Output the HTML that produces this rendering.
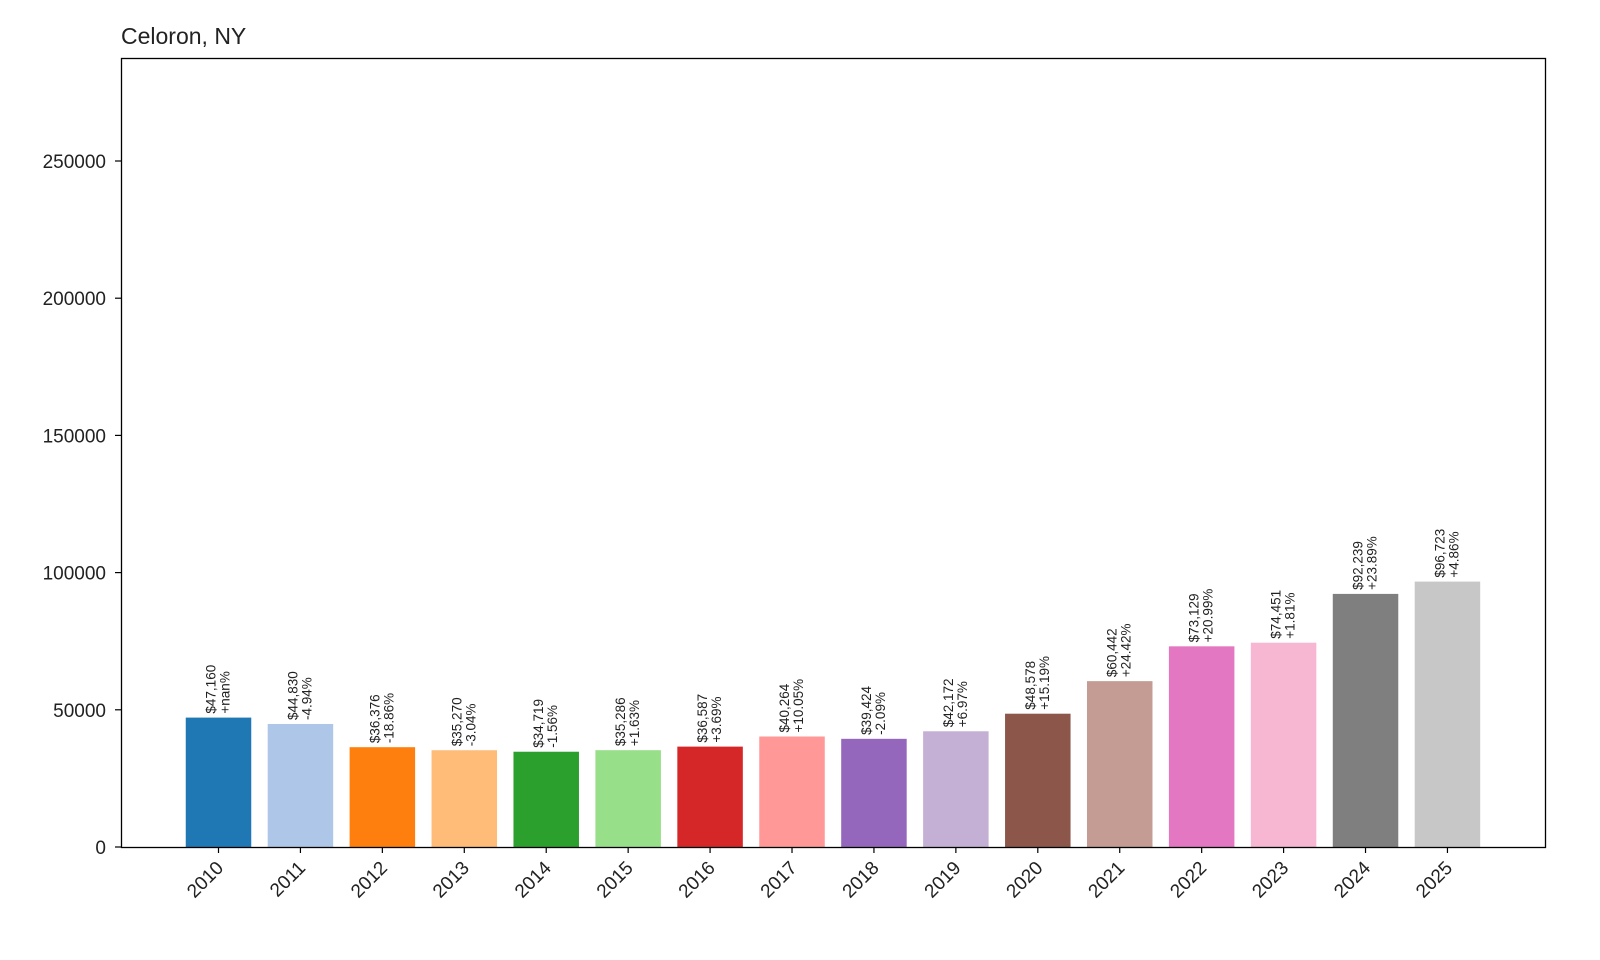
<!DOCTYPE html>
<html><head><meta charset="utf-8"><style>
body{margin:0;background:#fff;}
svg{display:block;font-family:"Liberation Sans","DejaVu Sans",sans-serif;}
</style></head><body>
<svg id="chart" width="1600" height="960" viewBox="0 0 1600 960" xmlns="http://www.w3.org/2000/svg">
<rect width="1600" height="960" fill="#fff"/>
<text x="121" y="44" font-size="23" fill="#222">Celoron, NY</text>
<g id="bars"></g>
<g id="yticks"></g>
<g id="xticks"></g>
<rect x="121.5" y="58.5" width="1424" height="789" fill="none" stroke="#000" stroke-width="1.3"/>
</svg>
<script>
const years = ["2010","2011","2012","2013","2014","2015","2016","2017","2018","2019","2020","2021","2022","2023","2024","2025"];
const values = [47160,44830,36376,35270,34719,35286,36587,40264,39424,42172,48578,60442,73129,74451,92239,96723];
const valueLabels = ["$47,160","$44,830","$36,376","$35,270","$34,719","$35,286","$36,587","$40,264","$39,424","$42,172","$48,578","$60,442","$73,129","$74,451","$92,239","$96,723"];
const pctLabels = ["+nan%","-4.94%","-18.86%","-3.04%","-1.56%","+1.63%","+3.69%","+10.05%","-2.09%","+6.97%","+15.19%","+24.42%","+20.99%","+1.81%","+23.89%","+4.86%"];
const yTicks = [0,50000,100000,150000,200000,250000];
const colors = ["#1f77b4","#aec7e8","#ff7f0e","#ffbb78","#2ca02c","#98df8a","#d62728","#ff9896","#9467bd","#c5b0d5","#8c564b","#c49c94","#e377c2","#f7b6d2","#7f7f7f","#c7c7c7"];

const NS="http://www.w3.org/2000/svg";
const y0=847, pxPer=137.2/50000;
const yScale=v=>y0-v*pxPer;
const x0=218.5, step=81.93, bw=65.5;
const xScale=i=>x0+i*step;
function mk(tag,attrs,parent){const e=document.createElementNS(NS,tag);for(const k in attrs)e.setAttribute(k,attrs[k]);parent.appendChild(e);return e;}
const gb=document.getElementById('bars'), gy=document.getElementById('yticks'), gx=document.getElementById('xticks');
values.forEach((v,i)=>{
  const cx=xScale(i), top=yScale(v);
  const r=mk('rect',{x:cx-bw/2,y:top,width:bw,height:y0-top,fill:colors[i]},gb);
  
  
  const t=mk('text',{transform:`translate(${cx},${top-4}) rotate(-90)`,'font-size':'13.5',fill:'#222'},gb);
  
  
  const s1=mk('tspan',{x:0,dy:-3},t); s1.textContent=valueLabels[i];
  const s2=mk('tspan',{x:0,dy:14},t); s2.textContent=pctLabels[i];
  mk('line',{x1:cx,x2:cx,y1:y0,y2:y0+6,stroke:'#000','stroke-width':1.2},gx);
  const xl=mk('text',{transform:`translate(${cx+6},${y0+22}) rotate(-45)`,'text-anchor':'end','font-size':'19',fill:'#222'},gx);
  
  
  xl.textContent=years[i];
});
yTicks.forEach(v=>{
  const y=yScale(v);
  mk('line',{x1:115,x2:121,y1:y,y2:y,stroke:'#000','stroke-width':1.2},gy);
  const t=mk('text',{x:106,y:y+7,'text-anchor':'end','font-size':'19',fill:'#222'},gy);
  
  
  t.textContent=v;
});
</script>
</body></html>
